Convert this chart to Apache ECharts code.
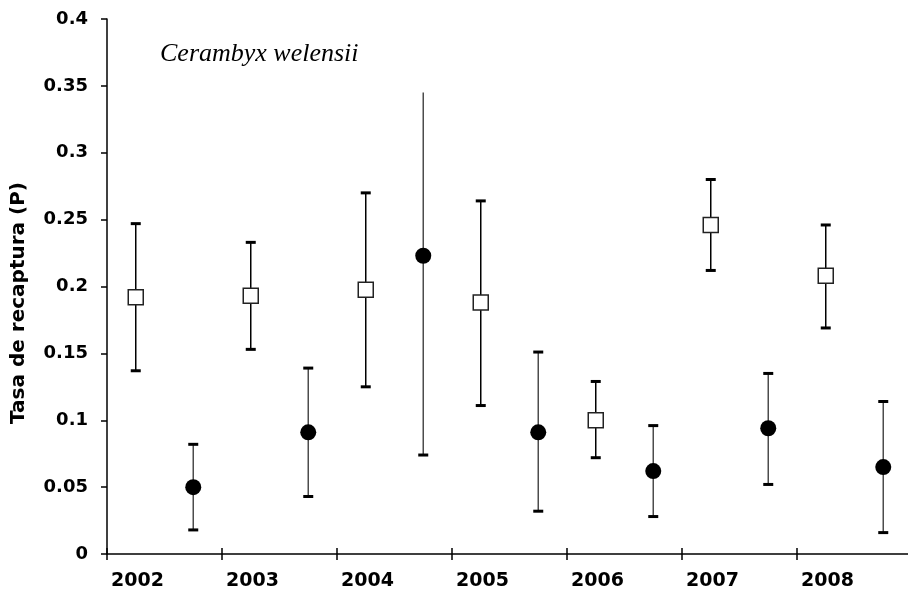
<!DOCTYPE html>
<html>
<head>
<meta charset="utf-8">
<script src="https://cdn.jsdelivr.net/npm/echarts@6/dist/echarts.min.js"></script>
<style>
  html, body { margin: 0; padding: 0; background: #fff; }
  #chart { width: 908px; height: 593px; }
</style>
</head>
<body>
<div id="chart"></div>
<script>
// Sampling years (one band per year on the x axis)
const years = ['2002', '2003', '2004', '2005', '2006', '2007', '2008'];

// Open squares: recapture rate with its lower / upper interval
const squareP    = [0.192, 0.193, 0.1975, 0.188, 0.100, 0.246, 0.208];
const squareLow  = [0.137, 0.153, 0.125, 0.111, 0.072, 0.212, 0.169];
const squareHigh = [0.247, 0.233, 0.270, 0.264, 0.129, 0.280, 0.246];

// Filled circles: recapture rate with its lower / upper interval
const circleP    = [0.050, 0.091, 0.223, 0.091, 0.062, 0.094, 0.065];
const circleLow  = [0.018, 0.043, 0.074, 0.032, 0.028, 0.052, 0.016];
const circleHigh = [0.082, 0.139, 0.345, 0.151, 0.096, 0.135, 0.114];

// Upper whiskers drawn without an end cap (open-ended interval)
const circleOpenTop = [false, false, true, false, false, false, false];

const yTicks = ['0', '0.05', '0.1', '0.15', '0.2', '0.25', '0.3', '0.35', '0.4'];

const SQUARE_SHIFT = 0.25;
const CIRCLE_SHIFT = 0.75;

const squarePoints = squareP.map((v, i) => [i + SQUARE_SHIFT, v]);
const circlePoints = circleP.map((v, i) => [i + CIRCLE_SHIFT, v]);
const squareBars = squareP.map((v, i) => [i + SQUARE_SHIFT, squareLow[i], squareHigh[i], 0]);
const circleBars = circleP.map((v, i) => [i + CIRCLE_SHIFT, circleLow[i], circleHigh[i], circleOpenTop[i] ? 1 : 0]);

function whiskers(lineColor) {
  return function (params, api) {
    const x = api.value(0);
    const lo = api.coord([x, api.value(1)]);
    const hi = api.coord([x, api.value(2)]);
    const openTop = api.value(3) === 1;
    const capHalf = 5;
    const children = [
      { type: 'line', shape: { x1: lo[0], y1: lo[1], x2: hi[0], y2: hi[1] },
        style: { stroke: lineColor, lineWidth: 1.5 } },
      { type: 'line', shape: { x1: lo[0] - capHalf, y1: lo[1], x2: lo[0] + capHalf, y2: lo[1] },
        style: { stroke: '#000', lineWidth: 3 } }
    ];
    if (!openTop) {
      children.push({ type: 'line', shape: { x1: hi[0] - capHalf, y1: hi[1], x2: hi[0] + capHalf, y2: hi[1] },
        style: { stroke: '#000', lineWidth: 3 } });
    }
    return { type: 'group', children: children };
  };
}

const axisFont = 'DejaVu Sans';

const chart = echarts.init(document.getElementById('chart'), null, { renderer: 'canvas' });
chart.setOption({
  animation: false,
  backgroundColor: '#fff',
  grid: { left: 107, top: 19, width: 805, height: 535, outerBoundsMode: 'none', containLabel: false },
  xAxis: [
    {
      type: 'value', min: 0, max: years.length, interval: 1,
      axisLine: { lineStyle: { color: '#000', width: 1.5 } },
      axisTick: { show: true, length: 6, inside: false, lineStyle: { color: '#000', width: 1.5 } },
      splitLine: { show: false },
      axisLabel: {
        showMinLabel: true, showMaxLabel: false,
        align: 'left', margin: 18, padding: [0, 0, 0, 4],
        color: '#000', fontFamily: axisFont, fontWeight: 'bold', fontSize: 19,
        formatter: v => (v >= 0 && v < years.length) ? years[Math.round(v)] : ''
      }
    },
    {
      type: 'value', min: 0, max: years.length, interval: 1, position: 'bottom',
      axisLine: { show: false },
      axisTick: { show: true, length: 6, inside: true, lineStyle: { color: '#000', width: 1.5 } },
      splitLine: { show: false },
      axisLabel: { show: false }
    }
  ],
  yAxis: {
    type: 'value', min: 0, max: 0.4, interval: 0.05,
    axisLine: { show: true, lineStyle: { color: '#000', width: 1.5 } },
    axisTick: { show: true, length: 6, inside: false, lineStyle: { color: '#000', width: 1.5 } },
    splitLine: { show: false },
    axisLabel: {
      margin: 19, color: '#000', fontFamily: axisFont, fontWeight: 'bold', fontSize: 18,
      formatter: v => yTicks[Math.round(v / 0.05)]
    }
  },
  graphic: [
    {
      type: 'text', left: 160, top: 41,
      style: { text: 'Cerambyx welensii', font: 'italic 26px "Liberation Serif"', fill: '#000' }
    },
    {
      type: 'text', x: 19, y: 303, rotation: Math.PI / 2,
      style: {
        text: 'Tasa de recaptura (P)', font: 'bold 20px "DejaVu Sans"', fill: '#000',
        align: 'center', verticalAlign: 'middle'
      }
    }
  ],
  series: [
    {
      type: 'custom', name: 'squareBars', renderItem: whiskers('#000'),
      data: squareBars, encode: { x: 0, y: [1, 2] }, z: 2, silent: true
    },
    {
      type: 'custom', name: 'circleBars', renderItem: whiskers('#4d4d4d'),
      data: circleBars, encode: { x: 0, y: [1, 2] }, z: 2, silent: true
    },
    {
      type: 'scatter', name: 'squares', data: squarePoints,
      symbol: 'rect', symbolSize: 15, z: 3,
      itemStyle: { color: '#fff', borderColor: '#222', borderWidth: 1.5, opacity: 1 }
    },
    {
      type: 'scatter', name: 'circles', data: circlePoints,
      symbol: 'circle', symbolSize: 16, z: 3,
      itemStyle: { color: '#000', borderWidth: 0, opacity: 1 }
    }
  ]
});
</script>
</body>
</html>
